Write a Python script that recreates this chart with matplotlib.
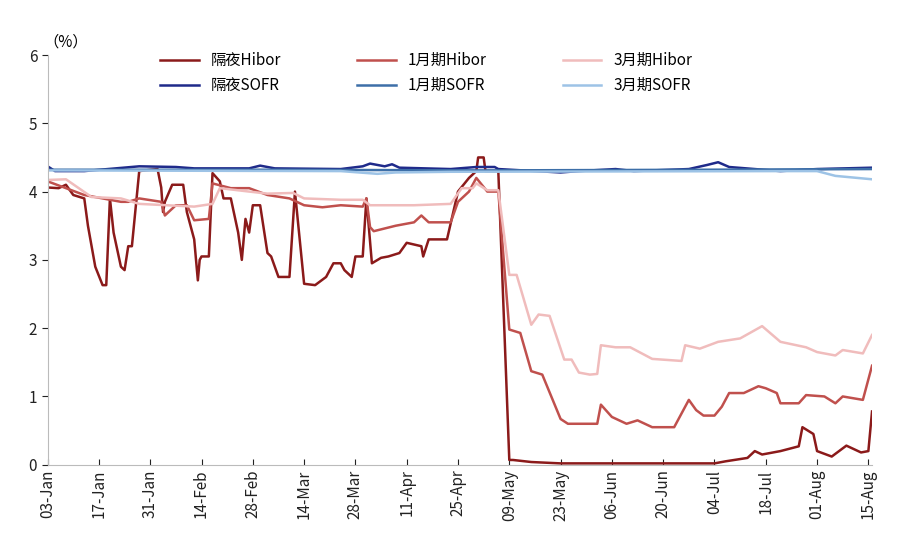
import matplotlib.pyplot as plt
import matplotlib.dates as mdates
import pandas as pd

plt.rcParams.update({"font.family": "Noto Sans CJK SC", "font.size": 11})

START = pd.Timestamp("2025-01-03")

# day offsets from 03-Jan and values (%)
on_hibor_days = [0, 3, 5, 7, 10, 11, 13, 15, 16, 17, 18, 20, 21, 22, 23, 25, 30, 31, 31.5, 32, 34, 37, 38, 40, 41, 41.5, 42, 44,
                 45, 47, 48, 50, 52, 53, 54, 55, 56, 57, 58, 60, 61, 63, 66, 67.5, 70, 73, 76, 78, 80, 81, 83, 84, 86, 87, 88.5,
                 91, 93, 96, 98, 102, 102.5, 104, 109, 112, 115, 117, 117.5, 119, 119.5, 123, 126, 127, 132, 140, 182, 185,
                 191, 193, 195, 200, 205, 206, 209, 210, 214, 218, 222, 224, 225]
on_hibor = [4.06, 4.05, 4.1, 3.95, 3.9, 3.5, 2.9, 2.63, 2.63, 3.9, 3.4, 2.9, 2.85, 3.2, 3.2, 4.3, 4.33, 4.06, 3.7, 3.85, 4.1, 4.1,
            3.7, 3.3, 2.7, 3.0, 3.05, 3.05, 4.27, 4.15, 3.9, 3.9, 3.4, 3.0, 3.6, 3.4, 3.8, 3.8, 3.8, 3.1, 3.05, 2.75, 2.75, 4.0,
            2.65, 2.63, 2.75, 2.95, 2.95, 2.85, 2.75, 3.05, 3.05, 3.9, 2.95, 3.03, 3.05, 3.1, 3.25, 3.2, 3.05, 3.3, 3.3, 4.0,
            4.2, 4.3, 4.5, 4.5, 4.3, 4.3, 0.07, 0.07, 0.04, 0.02, 0.02, 0.05, 0.1, 0.2, 0.15, 0.2, 0.27, 0.55, 0.45, 0.2, 0.12,
            0.28, 0.18, 0.2, 0.78]

m1_hibor_days = [0, 10, 15, 20, 22, 25, 31, 32, 35, 38, 40, 44, 45, 50, 55, 60, 66, 70, 75, 80, 86, 87, 88, 89, 95, 100, 102,
                 104, 110, 112, 115, 117, 120, 123, 126, 129, 132, 135, 140, 142, 150, 151, 154, 158, 161, 165, 171, 175, 177,
                 179, 182, 184, 186, 190, 194, 196, 199, 200, 205, 207, 212, 215, 217, 222.5, 225]
m1_hibor = [4.15, 3.95, 3.9, 3.85, 3.85, 3.9, 3.85, 3.65, 3.8, 3.8, 3.58, 3.6, 4.12, 4.05, 4.05, 3.95, 3.9, 3.8, 3.77, 3.8, 3.78,
            3.9, 3.48, 3.42, 3.5, 3.55, 3.65, 3.55, 3.55, 3.85, 4.0, 4.2, 4.0, 4.0, 1.98, 1.93, 1.37, 1.32, 0.67, 0.6, 0.6, 0.88,
            0.7, 0.6, 0.65, 0.55, 0.55, 0.95, 0.8, 0.72, 0.72, 0.85, 1.05, 1.05, 1.15, 1.12, 1.05, 0.9, 0.9, 1.02, 1.0, 0.9, 1.0,
            0.95, 1.45]

m3_hibor_days = [0, 5, 12, 20, 25, 40, 45, 47, 55, 60, 67, 70, 80, 86, 88, 100, 110, 113, 116, 117, 120, 123, 126, 128, 132, 134,
                 137, 141, 143, 145, 148, 150, 151, 155, 159, 165, 173, 174, 178, 183, 189, 195, 200, 207, 210, 215, 217, 222.5, 225]
m3_hibor = [4.17, 4.18, 3.92, 3.9, 3.82, 3.78, 3.82, 4.05, 4.0, 3.97, 3.98, 3.9, 3.88, 3.88, 3.8, 3.8, 3.82, 4.05, 4.05, 4.12,
            4.02, 4.02, 2.78, 2.78, 2.05, 2.2, 2.18, 1.54, 1.54, 1.35, 1.32, 1.33, 1.75, 1.72, 1.72, 1.55, 1.52, 1.75, 1.7, 1.8,
            1.85, 2.03, 1.8, 1.72, 1.65, 1.6, 1.68, 1.63, 1.9]

on_sofr_days = [0, 2, 10, 25, 35, 40, 55, 58, 62, 80, 86, 88, 92, 94, 96, 110, 117, 122, 123, 140, 145, 155, 160, 175, 180,
                183, 186, 200, 210, 225]
on_sofr = [4.37, 4.3, 4.3, 4.37, 4.36, 4.34, 4.34, 4.38, 4.34, 4.33, 4.37, 4.41, 4.37, 4.4, 4.35, 4.33, 4.36, 4.36, 4.33, 4.28,
           4.3, 4.33, 4.3, 4.33, 4.39, 4.43, 4.36, 4.3, 4.33, 4.35]

m1_sofr_days = [0, 60, 120, 180, 225]
m1_sofr = [4.32, 4.32, 4.31, 4.32, 4.33]

m3_sofr_days = [0, 80, 90, 95, 110, 200, 210, 215, 225]
m3_sofr = [4.31, 4.3, 4.26, 4.28, 4.29, 4.3, 4.3, 4.23, 4.18]

# ordered so that the 3-column legend reads row by row
series = [
    ("隔夜Hibor", on_hibor_days, on_hibor, "#8b1a1a"),
    ("隔夜SOFR", on_sofr_days, on_sofr, "#1f2a8a"),
    ("1月期Hibor", m1_hibor_days, m1_hibor, "#c0504d"),
    ("1月期SOFR", m1_sofr_days, m1_sofr, "#3d6fa8"),
    ("3月期Hibor", m3_hibor_days, m3_hibor, "#f0bcbc"),
    ("3月期SOFR", m3_sofr_days, m3_sofr, "#9dc3e6"),
]


def main() -> None:
    fig = plt.figure(figsize=(9.16, 5.5), dpi=100)
    ax = fig.add_axes([0.052, 0.155, 0.9, 0.745])
    for label, days, vals, color in series:
        dates = [START + pd.Timedelta(days=d) for d in days]
        ax.plot(dates, vals, color=color, lw=1.8, label=label)

    ticks = pd.date_range(START, periods=17, freq="14D")
    ax.set_xticks(ticks)
    ax.xaxis.set_major_formatter(mdates.DateFormatter("%d-%b"))
    ax.set_xlim(START, ticks[-1] + pd.Timedelta(days=1))
    ax.set_ylim(0, 6)
    ax.set_yticks(range(7))
    plt.setp(ax.get_xticklabels(), rotation=90)
    ax.tick_params(labelsize=11, colors="#222222", length=4)
    ax.tick_params(axis="x", direction="in")
    for side in ("top", "right"):
        ax.spines[side].set_visible(False)
    for side in ("left", "bottom"):
        ax.spines[side].set_color("#bbbbbb")
    ax.text(-0.005, 1.02, "（%）", transform=ax.transAxes, fontsize=11)
    ax.legend(ncol=3, frameon=False, loc="upper left", bbox_to_anchor=(0.12, 1.04),
              columnspacing=5, handlelength=2.5, fontsize=11)
    fig.savefig("out.png")
    plt.close(fig)


if __name__ == "__main__":
    main()
